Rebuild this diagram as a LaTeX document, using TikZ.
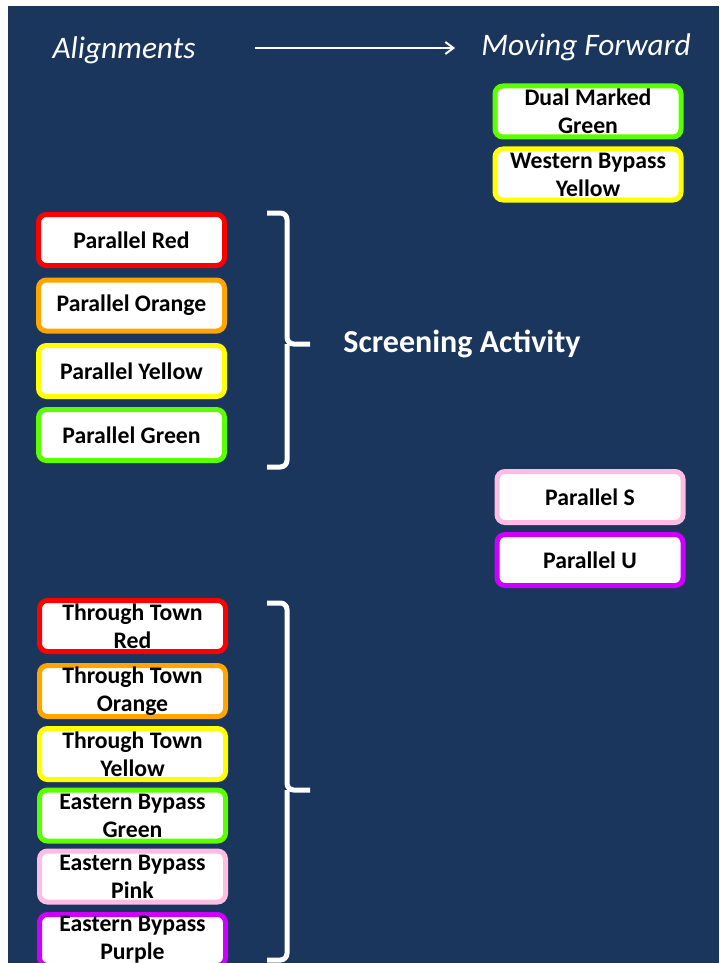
\documentclass[tikz,border=0pt]{standalone}
\usepackage{fontspec}
\setmainfont{Carlito}
\usetikzlibrary{arrows.meta}
\definecolor{bgblue}{HTML}{1B365D}
\definecolor{bxred}{HTML}{FF0000}
\definecolor{bxorange}{HTML}{FFA500}
\definecolor{bxyellow}{HTML}{FFFF00}
\definecolor{bxgreen}{HTML}{5CFF00}
\definecolor{bxpink}{HTML}{FFBDE2}
\definecolor{bxpurple}{HTML}{CC00FF}

\begin{document}
\begin{tikzpicture}[x=0.75pt,y=-0.75pt,
  box/.style={draw,fill=white,rounded corners=6pt,line width=3.75pt,minimum width=139.5pt,minimum height=38.25pt,inner sep=0pt,align=center,font=\fontsize{17.8}{21}\selectfont\bfseries},
  head/.style={text=white,font=\fontsize{23.5}{28}\selectfont\itshape},
  brace/.style={draw=white,line width=3.75pt,rounded corners=5pt}]
\useasboundingbox (0,0) rectangle (719,963);
\fill[bgblue] (8,6) rectangle (719,963);
\node[head] (align) at (124,50) {Alignments};
\node[head] (fwd) at (586,47) {Moving Forward};
\coordinate (arrs) at (255,48);
\coordinate (arre) at (455,48);
\draw[white,line width=1.5pt,-{Straight Barb[length=6pt,width=9pt]}] (arrs) -- (arre);

\node[box,draw=bxgreen] (dmg) at (588,111.5) {Dual Marked\\Green};
\node[box,draw=bxyellow] (wby) at (588,174.5) {Western Bypass\\Yellow};

\node[box,draw=bxred] (pred) at (131.5,240) {Parallel Red};
\node[box,draw=bxorange] (porange) at (131.5,305.5) {Parallel Orange};
\node[box,draw=bxyellow] (pyellow) at (131.5,371) {Parallel Yellow};
\node[box,draw=bxgreen] (pgreen) at (131.5,435) {Parallel Green};
\draw[brace] (267,213) -- (287,213) -- (287,344) -- (310,344);
\draw[brace] (287,344) -- (287,467) -- (267,467);
\node[text=white,font=\fontsize{24}{28}\selectfont\bfseries] (screen) at (462,344) {Screening Activity};

\node[box,draw=bxpink] (ps) at (590,497) {Parallel S};
\node[box,draw=bxpurple] (pu) at (590,560) {Parallel U};

\node[box,draw=bxred] (ttred) at (132.5,626) {Through Town\\Red};
\node[box,draw=bxorange] (ttorange) at (132.5,691) {Through Town\\Orange};
\node[box,draw=bxyellow] (ttyellow) at (132.5,754) {Through Town\\Yellow};
\node[box,draw=bxgreen] (ebgreen) at (132.5,815.5) {Eastern Bypass\\Green};
\node[box,draw=bxpink] (ebpink) at (132.5,876.5) {Eastern Bypass\\Pink};
\node[box,draw=bxpurple] (ebpurple) at (132.5,940) {Eastern Bypass\\Purple};
\draw[brace] (267,603) -- (287,603) -- (287,790) -- (310,790);
\draw[brace] (287,790) -- (287,960) -- (267,960);
\end{tikzpicture}
\end{document}
